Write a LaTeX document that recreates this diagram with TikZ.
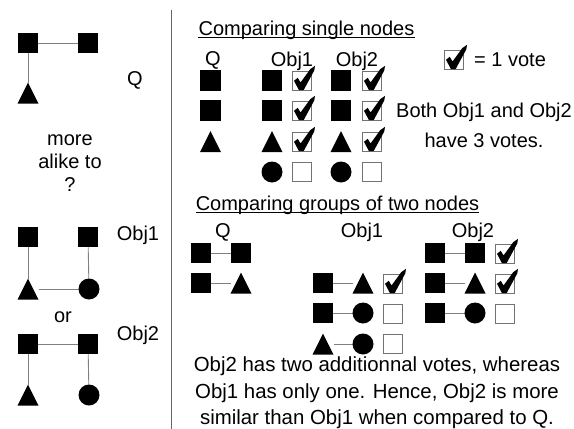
\documentclass[tikz,border=0pt]{standalone}
\usepackage{fontspec}
\setmainfont{Liberation Sans}
\usetikzlibrary{backgrounds}
\tikzset{
  sq/.style={rectangle, fill=black, minimum size=20.5pt, inner sep=0pt, outer sep=0pt},
  circ/.style={circle, fill=black, minimum size=21pt, inner sep=0pt, outer sep=0pt},
  tri/.style={rectangle, minimum width=21pt, minimum height=21pt, inner sep=0pt, outer sep=0pt,
    path picture={\fill[black] (path picture bounding box.south west) --
      (path picture bounding box.south east) -- (path picture bounding box.north) -- cycle;}},
  vbox/.style={rectangle, draw=black!55, line width=0.8pt, fill=white, minimum size=19.5pt, inner sep=0pt},
  link/.style={draw=black!50, line width=0.9pt},
  lbl/.style={font=\fontsize{20}{24}\selectfont, inner sep=0pt},
  title/.style={lbl, inner sep=0pt},
  tick/.pic={\fill[black] (-8,-0.2) -- (-4.3,-3.2) -- (-1.4,1.4) -- (8.2,-11.8)
      -- (13,-15.2) -- (12.3,-10.6) -- (1.6,9.2) -- (-3,9.2) -- cycle;}
}
\begin{document}
\begin{tikzpicture}[x=1pt, y=-1pt]
\useasboundingbox (0,0) rectangle (574,429);

% divider between the question and the explanation
\coordinate (dtop) at (171,10);
\coordinate (dbot) at (171,429);
\draw[black!60, line width=1pt] (dtop) -- (dbot);

% ---------- left column: query graph and the two candidates ----------
\node[sq] (qa) at (28,43) {};
\node[sq] (qb) at (88,43) {};
\node[tri] (qc) at (28,93) {};
\node[lbl] (qlbl) at (135,80) {Q};

\node[lbl, align=center, font=\fontsize{20}{23}\selectfont] (ask) at (70,163) {more\\alike to\\?};

\node[sq] (a1) at (28,237) {};
\node[sq] (a2) at (88,237) {};
\node[tri] (a3) at (28,289) {};
\node[circ] (a4) at (89,289) {};
\node[lbl] (albl) at (138,235) {Obj1};

\node[lbl] (orlbl) at (63,317) {or};

\node[sq] (b1) at (28,344) {};
\node[sq] (b2) at (88,344) {};
\node[tri] (b3) at (28,395) {};
\node[circ] (b4) at (89,395) {};
\node[lbl] (blbl) at (138,335) {Obj2};

% ---------- comparing single nodes ----------
\node[title] (t1) at (306.5,30) {Comparing single nodes};
\draw[line width=0.9pt] ([yshift=-2.5pt]t1.base west) -- ([yshift=-2.5pt]t1.base east);

\node[lbl] (h1q) at (213,60) {Q};
\node[lbl] (h1a) at (292,61) {Obj1};
\node[lbl] (h1b) at (357,61) {Obj2};

\node[sq] (sq1) at (210.5,80.5) {};
\node[sq] (sq2) at (210.5,110.5) {};
\node[tri] (sq3) at (210.5,141.5) {};

\node[sq] (sa1) at (272,80.5) {};
\node[sq] (sa2) at (272,110.5) {};
\node[tri] (sa3) at (272,141.5) {};
\node[circ] (sa4) at (272,172) {};
\node[vbox] (va1) at (302,81) {};
\node[vbox] (va2) at (302,111) {};
\node[vbox] (va3) at (302,142) {};
\node[vbox] (va4) at (302,172) {};

\node[sq] (sb1) at (341,80.5) {};
\node[sq] (sb2) at (341,110.5) {};
\node[tri] (sb3) at (341,141.5) {};
\node[circ] (sb4) at (341,172) {};
\node[vbox] (vb1) at (372,81) {};
\node[vbox] (vb2) at (372,111) {};
\node[vbox] (vb3) at (372,142) {};
\node[vbox] (vb4) at (372,172) {};

\pic at (va1) {tick};
\pic at (va2) {tick};
\pic at (va3) {tick};
\pic at (vb1) {tick};
\pic at (vb2) {tick};
\pic at (vb3) {tick};

% legend
\node[vbox] (key) at (454,60) {};
\pic at (key) {tick};
\node[lbl, anchor=west] (keytxt) at (474,60) {= 1 vote};

\node[lbl, align=center, font=\fontsize{20}{30}\selectfont] (both) at (484,125) {Both Obj1 and Obj2\\have 3 votes.};

% ---------- comparing groups of two nodes ----------
\node[title] (t2) at (337.5,205) {Comparing groups of two nodes};
\draw[line width=0.9pt] ([yshift=-2.5pt]t2.base west) -- ([yshift=-2.5pt]t2.base east);

\node[lbl] (h2q) at (223,232) {Q};
\node[lbl] (h2a) at (362,232) {Obj1};
\node[lbl] (h2b) at (473,232) {Obj2};

% Q pairs
\node[sq] (pq1) at (201,253) {};
\node[sq] (pq2) at (241,253) {};
\node[sq] (pq3) at (201,283) {};
\node[tri] (pq4) at (241,283) {};

% Obj1 pairs
\node[sq] (pa1) at (323,283) {};
\node[tri] (pa2) at (363,283) {};
\node[vbox] (wa1) at (393,284) {};
\node[sq] (pa3) at (323,313) {};
\node[circ] (pa4) at (363,313) {};
\node[vbox] (wa2) at (393,314) {};
\node[tri] (pa5) at (323,344) {};
\node[circ] (pa6) at (363,344) {};
\node[vbox] (wa3) at (393,344) {};

% Obj2 pairs
\node[sq] (pb1) at (435,253) {};
\node[sq] (pb2) at (475,253) {};
\node[vbox] (wb1) at (505,254) {};
\node[sq] (pb3) at (435,283) {};
\node[tri] (pb4) at (475,283) {};
\node[vbox] (wb2) at (505,284) {};
\node[sq] (pb5) at (435,313) {};
\node[circ] (pb6) at (475,313) {};
\node[vbox] (wb3) at (505,314) {};

\pic at (wa1) {tick};
\pic at (wb1) {tick};
\pic at (wb2) {tick};

\node[lbl, align=center, font=\fontsize{20.4}{26.3}\selectfont] (concl) at (377,393)
  {Obj2 has two additionnal votes, whereas\\Obj1 has only one. Hence, Obj2 is more\\similar than Obj1 when compared to Q.};

% edges sit under the filled shapes
\begin{pgfonlayer}{background}
\draw[link] (qa) -- (qb);
\draw[link] (qa) -- (qc);
\draw[link] (a1) -- (a3);
\draw[link] (a2) -- (a4);
\draw[link] (a3) -- (a4);
\draw[link] (b1) -- (b2);
\draw[link] (b1) -- (b3);
\draw[link] (b2) -- (b4);
\draw[link] (pq1) -- (pq2);
\draw[link] (pq3) -- (pq4);
\draw[link] (pa1) -- (pa2);
\draw[link] (pa3) -- (pa4);
\draw[link] (pa5) -- (pa6);
\draw[link] (pb1) -- (pb2);
\draw[link] (pb3) -- (pb4);
\draw[link] (pb5) -- (pb6);
\end{pgfonlayer}
\end{tikzpicture}
\end{document}
